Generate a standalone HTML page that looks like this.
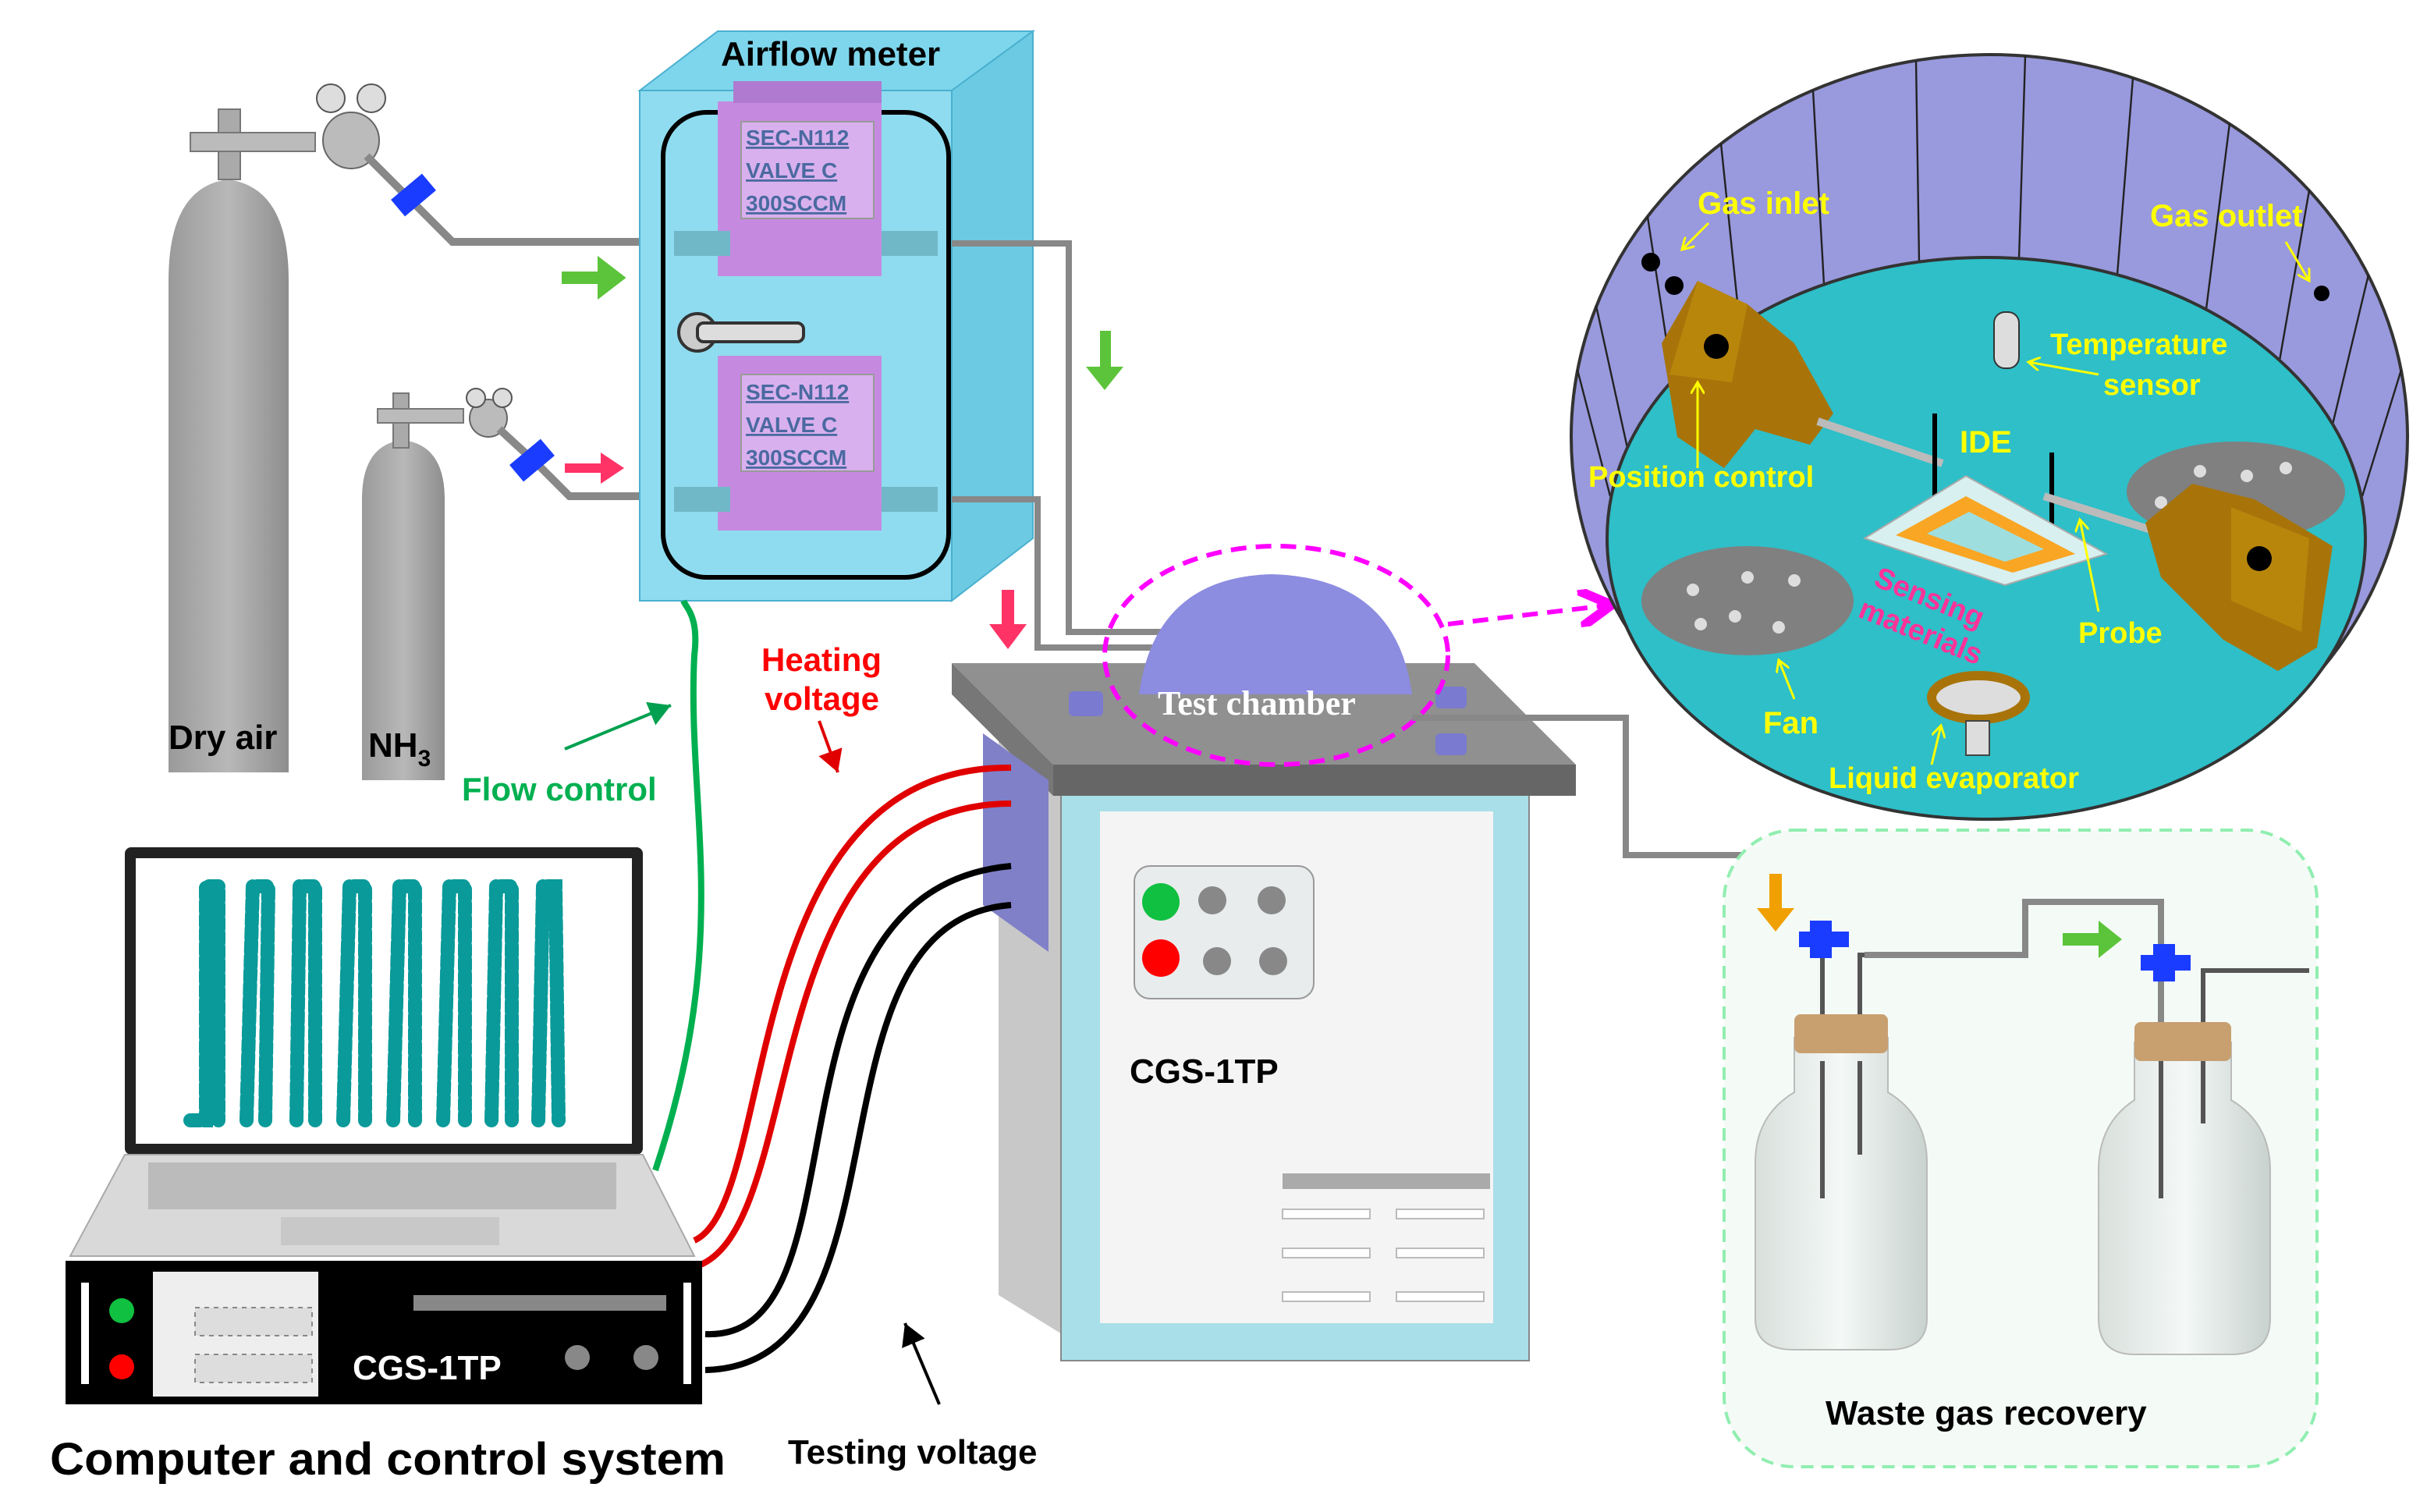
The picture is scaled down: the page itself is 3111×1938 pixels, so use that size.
<!DOCTYPE html>
<html><head><meta charset="utf-8"><style>
html,body{margin:0;padding:0;background:#fff}
svg{display:block}
text{font-family:"Liberation Sans",sans-serif;font-weight:bold}
</style></head><body>
<svg width="3111" height="1938" viewBox="0 0 1555.5 969" xmlns="http://www.w3.org/2000/svg">
<defs>
<linearGradient id="cyl" x1="0" x2="1"><stop offset="0" stop-color="#9a9a9a"/><stop offset="0.5" stop-color="#b8b8b8"/><stop offset="1" stop-color="#8e8e8e"/></linearGradient>
<linearGradient id="bottle" x1="0" x2="1"><stop offset="0" stop-color="#d8e0dc"/><stop offset="0.5" stop-color="#f4f8f6"/><stop offset="1" stop-color="#c8d2ce"/></linearGradient>
<marker id="ay" markerWidth="6" markerHeight="6" refX="5" refY="3" orient="auto"><path d="M0,0 L5,3 L0,6" fill="none" stroke="#ffff00" stroke-width="1"/></marker>
<marker id="ag" markerWidth="8" markerHeight="8" refX="7" refY="4" orient="auto"><path d="M0,0 L7,4 L0,8 z" fill="#00a050"/></marker>
<marker id="ak" markerWidth="8" markerHeight="8" refX="7" refY="4" orient="auto"><path d="M0,0 L7,4 L0,8 z" fill="#000"/></marker>
<marker id="ar" markerWidth="8" markerHeight="8" refX="7" refY="4" orient="auto"><path d="M0,0 L7,4 L0,8 z" fill="#e00000"/></marker>
<marker id="am" markerWidth="8" markerHeight="8" refX="6" refY="4" orient="auto"><path d="M0,0 L7,4 L0,8" fill="none" stroke="#ff00ff" stroke-width="2"/></marker>
</defs>

<!-- cylinders -->
<path d="M108,495 L108,180 Q108,120 146,115 Q185,120 185,180 L185,495 Z" fill="url(#cyl)"/>
<path d="M232,500 L232,320 Q232,285 258,282 Q285,285 285,320 L285,500 Z" fill="url(#cyl)"/>
<rect x="140" y="70" width="14" height="45" fill="#aaa" stroke="#777"/>
<rect x="122" y="85" width="80" height="12" fill="#bbb" stroke="#777"/>
<circle cx="225" cy="90" r="18" fill="#bbb" stroke="#666"/>
<circle cx="212" cy="63" r="9" fill="#ddd" stroke="#555"/><circle cx="238" cy="63" r="9" fill="#ddd" stroke="#555"/>
<rect x="252" y="252" width="10" height="35" fill="#aaa" stroke="#777"/>
<rect x="242" y="262" width="55" height="9" fill="#bbb" stroke="#777"/>
<circle cx="313" cy="268" r="12" fill="#bbb" stroke="#666"/>
<circle cx="305" cy="255" r="6" fill="#ddd" stroke="#555"/><circle cx="322" cy="255" r="6" fill="#ddd" stroke="#555"/>
<path d="M235,100 L265,130 L290,155 L410,155" fill="none" stroke="#888" stroke-width="5"/>
<path d="M320,275 L345,298 L365,318 L410,318" fill="none" stroke="#888" stroke-width="5"/>
<rect x="252" y="118" width="26" height="14" fill="#1a3cff" transform="rotate(-40 265 125)"/>
<rect x="328" y="288" width="26" height="14" fill="#1a3cff" transform="rotate(-40 341 295)"/>
<text x="108" y="480" font-size="22">Dry air</text>
<text x="236" y="485" font-size="22">NH<tspan font-size="15" dy="6">3</tspan></text>
<path d="M362,176 L385,176 L385,168 L398,178 L385,188 L385,180 L362,180 Z" fill="#5cc43a" stroke="#5cc43a" stroke-width="4"/>
<path d="M362,297 L385,297 L385,290 L400,300 L385,310 L385,303 L362,303 Z" fill="#ff3366"/>

<!-- airflow meter -->
<path d="M410,58 L460,20 L662,20 L662,345 L610,385 Z" fill="#5fc8e0"/>
<rect x="410" y="58" width="200" height="327" fill="#8fdcf0" stroke="#4ab0d0"/>
<path d="M410,58 L460,20 L662,20 L610,58 Z" fill="#7ed6ec" stroke="#4ab0d0"/>
<path d="M610,58 L662,20 L662,345 L610,385 Z" fill="#6ccae2" stroke="#4ab0d0"/>
<text x="462" y="42" font-size="22">Airflow meter</text>
<rect x="425" y="72" width="183" height="298" rx="28" fill="none" stroke="#000" stroke-width="3"/>
<rect x="460" y="65" width="105" height="112" fill="#c58ae0"/>
<rect x="470" y="52" width="95" height="14" fill="#b07ad0"/>
<rect x="475" y="78" width="85" height="62" fill="#d9b0ee" stroke="#999"/>
<text x="478" y="93" font-size="14" fill="#4a6aa0" font-weight="normal" text-decoration="underline">SEC-N112</text>
<text x="478" y="114" font-size="14" fill="#4a6aa0" font-weight="normal" text-decoration="underline">VALVE C</text>
<text x="478" y="135" font-size="14" fill="#4a6aa0" font-weight="normal" text-decoration="underline">300SCCM</text>
<rect x="432" y="148" width="36" height="16" fill="#70b8c8"/><rect x="565" y="148" width="36" height="16" fill="#70b8c8"/>
<rect x="460" y="228" width="105" height="112" fill="#c58ae0"/>
<rect x="475" y="240" width="85" height="62" fill="#d9b0ee" stroke="#999"/>
<text x="478" y="256" font-size="14" fill="#4a6aa0" font-weight="normal" text-decoration="underline">SEC-N112</text>
<text x="478" y="277" font-size="14" fill="#4a6aa0" font-weight="normal" text-decoration="underline">VALVE C</text>
<text x="478" y="298" font-size="14" fill="#4a6aa0" font-weight="normal" text-decoration="underline">300SCCM</text>
<rect x="432" y="312" width="36" height="16" fill="#70b8c8"/><rect x="565" y="312" width="36" height="16" fill="#70b8c8"/>
<circle cx="447" cy="213" r="12" fill="#ccc" stroke="#333" stroke-width="2"/>
<rect x="447" y="207" width="68" height="12" rx="4" fill="#ddd" stroke="#333" stroke-width="2"/>
<path d="M610,156 L685,156 L685,405 L760,405" fill="none" stroke="#888" stroke-width="4"/>
<path d="M610,320 L665,320 L665,415 L760,415" fill="none" stroke="#888" stroke-width="4"/>
<path d="M705,212 L712,212 L712,235 L720,235 L708,250 L696,235 L705,235 Z" fill="#5cc43a"/>
<path d="M642,378 L650,378 L650,400 L658,400 L646,416 L634,400 L642,400 Z" fill="#ff3366"/>

<!-- test chamber -->
<path d="M640,470 L705,515 L705,870 L640,830 Z" fill="#c8c8c8"/>
<rect x="680" y="500" width="300" height="372" fill="#a8dfe8" stroke="#888"/>
<rect x="705" y="520" width="252" height="328" fill="#f4f4f4"/>
<path d="M610,425 L945,425 L1010,490 L675,490 Z" fill="#909090"/>
<path d="M675,490 L1010,490 L1010,510 L675,510 Z" fill="#666"/>
<path d="M610,425 L675,490 L675,510 L610,445 Z" fill="#777"/>
<path d="M730,445 Q740,370 815,368 Q895,370 905,445 Z" fill="#8c8ce0"/>
<rect x="685" y="443" width="22" height="16" rx="3" fill="#7a7ad0"/>
<rect x="920" y="440" width="20" height="14" rx="3" fill="#7a7ad0"/>
<rect x="920" y="470" width="20" height="14" rx="3" fill="#7a7ad0"/>
<text x="742" y="458" font-size="22" fill="#fff" style="font-family:'Liberation Serif',serif">Test chamber</text>
<ellipse cx="818" cy="420" rx="110" ry="70" fill="none" stroke="#ff00ff" stroke-width="3" stroke-dasharray="10,6"/>
<path d="M928,400 L1030,388" fill="none" stroke="#ff00ff" stroke-width="3" stroke-dasharray="10,6" marker-end="url(#am)"/>
<path d="M630,470 L672,500 L672,610 L630,580 Z" fill="#7f80c8"/>
<rect x="727" y="555" width="115" height="85" rx="10" fill="#e8ecec" stroke="#999"/>
<circle cx="744" cy="578" r="12" fill="#10c040"/><circle cx="777" cy="577" r="9" fill="#888"/><circle cx="815" cy="577" r="9" fill="#888"/>
<circle cx="744" cy="614" r="12" fill="#ff0000"/><circle cx="780" cy="616" r="9" fill="#888"/><circle cx="816" cy="616" r="9" fill="#888"/>
<text x="724" y="694" font-size="22">CGS-1TP</text>
<rect x="822" y="752" width="133" height="10" fill="#aaa"/>
<g fill="#fff" stroke="#bbb"><rect x="822" y="775" width="56" height="6"/><rect x="895" y="775" width="56" height="6"/><rect x="822" y="800" width="56" height="6"/><rect x="895" y="800" width="56" height="6"/><rect x="822" y="828" width="56" height="6"/><rect x="895" y="828" width="56" height="6"/></g>
<path d="M905,460 L1042,460 L1042,548 L1168,548 L1168,600" fill="none" stroke="#888" stroke-width="4"/>

<!-- wires -->
<path d="M445,795 C500,770 470,490 648,492" fill="none" stroke="#e00000" stroke-width="4"/>
<path d="M445,812 C520,790 480,515 648,515" fill="none" stroke="#e00000" stroke-width="4"/>
<path d="M452,855 C560,860 480,570 648,555" fill="none" stroke="#000" stroke-width="4"/>
<path d="M452,878 C590,875 510,590 648,580" fill="none" stroke="#000" stroke-width="4"/>
<path d="M420,750 C470,600 440,520 445,420 C448,395 440,390 438,385" fill="none" stroke="#00b050" stroke-width="4"/>
<text x="488" y="430" font-size="21" fill="#ff0000">Heating</text>
<text x="490" y="455" font-size="21" fill="#ff0000">voltage</text>
<path d="M525,462 L537,495" stroke="#e00000" stroke-width="2" marker-end="url(#ar)"/>
<text x="296" y="513" font-size="21" fill="#00b050">Flow control</text>
<path d="M362,480 L430,452" stroke="#00a050" stroke-width="2" marker-end="url(#ag)"/>
<text x="505" y="938" font-size="22">Testing voltage</text>
<path d="M602,900 L580,848" stroke="#000" stroke-width="2" marker-end="url(#ak)"/>

<!-- laptop -->
<rect x="80" y="543" width="332" height="197" rx="4" fill="#222"/>
<rect x="87" y="550" width="318" height="183" fill="#fff"/>
<g fill="none" stroke="#0a9a9a" stroke-width="9" stroke-dasharray="6,3" stroke-linecap="round">
<path d="M122,718 L132,718 L132,568 L140,568 L140,718"/>
<path d="M158,718 L162,568 L172,568 L170,718"/>
<path d="M190,718 L192,568 L202,568 L202,718"/>
<path d="M220,718 L224,568 L234,568 L234,718"/>
<path d="M252,718 L256,568 L266,568 L266,718"/>
<path d="M284,718 L288,568 L298,568 L298,718"/>
<path d="M315,718 L318,568 L328,568 L328,718"/>
<path d="M345,718 L348,568 L356,568 L358,718"/>
</g>
<path d="M80,740 L412,740 L445,805 L45,805 Z" fill="#d9d9d9" stroke="#aaa"/>
<rect x="95" y="745" width="300" height="30" fill="#bbb"/>
<rect x="180" y="780" width="140" height="18" fill="#c8c8c8"/>
<rect x="42" y="808" width="408" height="92" fill="#000"/>
<rect x="52" y="822" width="5" height="65" fill="#fff"/><rect x="438" y="822" width="5" height="65" fill="#fff"/>
<circle cx="78" cy="840" r="8" fill="#10c040"/><circle cx="78" cy="876" r="8" fill="#ff0000"/>
<rect x="98" y="815" width="106" height="80" fill="#eee"/>
<rect x="125" y="838" width="75" height="18" fill="#ddd" stroke="#888" stroke-dasharray="3,3"/>
<rect x="125" y="868" width="75" height="18" fill="#ddd" stroke="#888" stroke-dasharray="3,3"/>
<rect x="265" y="830" width="162" height="10" fill="#888"/>
<text x="226" y="884" font-size="22" fill="#fff">CGS-1TP</text>
<circle cx="370" cy="870" r="8" fill="#888"/><circle cx="414" cy="870" r="8" fill="#888"/>
<text x="32" y="945" font-size="29" textLength="433" lengthAdjust="spacingAndGlyphs">Computer and control system</text>

<!-- zoom circle -->
<ellipse cx="1275" cy="280" rx="268" ry="245" fill="#9999dd" stroke="#333" stroke-width="2"/>
<g stroke="#222" stroke-width="1.2">
<line x1="1032" y1="318" x2="1011" y2="237"/>
<line x1="1043" y1="287" x2="1023" y2="196"/>
<line x1="1072" y1="244" x2="1056" y2="139"/>
<line x1="1115" y1="208" x2="1103" y2="92"/>
<line x1="1169" y1="182" x2="1162" y2="58"/>
<line x1="1230" y1="168" x2="1228" y2="39"/>
<line x1="1294" y1="166" x2="1298" y2="36"/>
<line x1="1357" y1="176" x2="1367" y2="50"/>
<line x1="1414" y1="198" x2="1429" y2="79"/>
<line x1="1461" y1="231" x2="1480" y2="122"/>
<line x1="1495" y1="272" x2="1518" y2="176"/>
<line x1="1514" y1="318" x2="1539" y2="237"/>
</g>
<ellipse cx="1273" cy="345" rx="243" ry="180" fill="#2ebfc8" stroke="#333" stroke-width="2"/>
<circle cx="1058" cy="168" r="6" fill="#000"/><circle cx="1073" cy="183" r="6" fill="#000"/><circle cx="1488" cy="188" r="5" fill="#000"/>
<text x="1088" y="137" font-size="20" fill="#ffff00">Gas inlet</text>
<path d="M1095,143 L1078,160" stroke="#ff0" stroke-width="1.5" marker-end="url(#ay)"/>
<text x="1378" y="145" font-size="20" fill="#ffff00">Gas outlet</text>
<path d="M1465,155 L1480,180" stroke="#ff0" stroke-width="1.5" marker-end="url(#ay)"/>
<rect x="1278" y="200" width="16" height="36" rx="7" fill="#ddd" stroke="#333"/>
<path d="M1345,240 L1300,232" stroke="#ff0" stroke-width="1.5" marker-end="url(#ay)"/>
<text x="1314" y="227" font-size="19" fill="#ffff00">Temperature</text>
<text x="1348" y="253" font-size="19" fill="#ffff00">sensor</text>
<path d="M1065,220 L1088,180 L1120,195 L1150,220 L1175,265 L1160,285 L1125,275 L1105,300 L1075,280 Z" fill="#a8740a"/>
<path d="M1088,180 L1120,195 L1110,245 L1070,240 Z" fill="#b8860b"/>
<circle cx="1100" cy="222" r="8" fill="#000"/>
<line x1="1165" y1="270" x2="1245" y2="297" stroke="#bbb" stroke-width="5"/>
<line x1="1240" y1="265" x2="1240" y2="340" stroke="#000" stroke-width="3"/>
<line x1="1315" y1="290" x2="1315" y2="360" stroke="#000" stroke-width="3"/>
<text x="1018" y="312" font-size="19" fill="#ffff00">Position  control</text>
<path d="M1088,300 L1088,245" stroke="#ff0" stroke-width="1.5" marker-end="url(#ay)"/>
<text x="1256" y="290" font-size="20" fill="#ffff00">IDE</text>
<path d="M1195,345 L1260,305 L1350,355 L1285,375 Z" fill="#d8f0f0" stroke="#aaa"/>
<path d="M1215,343 L1260,318 L1330,355 L1290,367 Z" fill="#ff9900" opacity="0.85"/>
<path d="M1235,342 L1262,328 L1310,352 L1285,360 Z" fill="#9fdede"/>
<text x="1200" y="375" font-size="19" fill="#ff3399" transform="rotate(22 1200 375)">Sensing</text>
<text x="1190" y="395" font-size="19" fill="#ff3399" transform="rotate(22 1190 395)">materials</text>
<ellipse cx="1433" cy="315" rx="70" ry="32" fill="#808080"/>
<g fill="#ddd"><circle cx="1410" cy="302" r="4"/><circle cx="1440" cy="305" r="4"/><circle cx="1465" cy="300" r="4"/><circle cx="1385" cy="322" r="4"/><circle cx="1423" cy="328" r="4"/></g>
<line x1="1310" y1="318" x2="1380" y2="340" stroke="#bbb" stroke-width="5"/>
<path d="M1375,335 L1405,310 L1445,320 L1495,350 L1485,415 L1460,430 L1425,410 L1385,370 Z" fill="#a8740a"/>
<path d="M1430,325 L1480,345 L1475,405 L1430,385 Z" fill="#b8860b"/>
<circle cx="1448" cy="358" r="8" fill="#000"/>
<text x="1332" y="412" font-size="19" fill="#ffff00">Probe</text>
<path d="M1345,392 L1333,333" stroke="#ff0" stroke-width="1.5" marker-end="url(#ay)"/>
<ellipse cx="1120" cy="385" rx="68" ry="35" fill="#808080"/>
<g fill="#ddd"><circle cx="1085" cy="378" r="4"/><circle cx="1120" cy="370" r="4"/><circle cx="1150" cy="372" r="4"/><circle cx="1112" cy="395" r="4"/><circle cx="1090" cy="400" r="4"/><circle cx="1140" cy="402" r="4"/></g>
<text x="1130" y="470" font-size="20" fill="#ffff00">Fan</text>
<path d="M1150,448 L1140,423" stroke="#ff0" stroke-width="1.5" marker-end="url(#ay)"/>
<ellipse cx="1268" cy="447" rx="30" ry="14" fill="#ddd" stroke="#a8740a" stroke-width="6"/>
<rect x="1260" y="462" width="15" height="22" fill="#ddd" stroke="#444"/>
<text x="1172" y="505" font-size="19" fill="#ffff00">Liquid evaporator</text>
<path d="M1238,490 L1244,465" stroke="#ff0" stroke-width="1.5" marker-end="url(#ay)"/>

<!-- waste gas -->
<rect x="1105" y="532" width="380" height="408" rx="45" fill="#f4fbf6" stroke="#90eeb0" stroke-width="2" stroke-dasharray="8,5"/>
<path d="M1192,740 L1192,612 L1260,612" fill="none" stroke="#555" stroke-width="3"/>
<path d="M1168,600 L1168,768" fill="none" stroke="#555" stroke-width="3"/>
<path d="M1195,612 L1298,612 L1298,578 L1385,578 L1385,768" fill="none" stroke="#888" stroke-width="4"/>
<path d="M1412,720 L1412,622 L1480,622" fill="none" stroke="#555" stroke-width="3"/>
<rect x="1153" y="597" width="32" height="10" fill="#1a3cff"/><rect x="1160" y="590" width="14" height="24" fill="#1a3cff"/>
<rect x="1372" y="612" width="32" height="10" fill="#1a3cff"/><rect x="1380" y="605" width="14" height="24" fill="#1a3cff"/>
<path d="M1134,560 L1142,560 L1142,582 L1150,582 L1138,597 L1126,582 L1134,582 Z" fill="#f0a000"/>
<path d="M1322,598 L1345,598 L1345,590 L1360,602 L1345,614 L1345,606 L1322,606 Z" fill="#5cc43a"/>
<path d="M1150,665 L1210,665 L1210,700 Q1235,715 1235,745 L1235,845 Q1235,865 1210,865 L1150,865 Q1125,865 1125,845 L1125,745 Q1125,715 1150,700 Z" fill="url(#bottle)" stroke="#bbb"/>
<rect x="1150" y="650" width="60" height="25" rx="4" fill="#c8a070"/>
<path d="M1368,668 L1430,668 L1430,705 Q1455,720 1455,750 L1455,845 Q1455,868 1430,868 L1368,868 Q1345,868 1345,845 L1345,750 Q1345,720 1368,705 Z" fill="url(#bottle)" stroke="#bbb"/>
<rect x="1368" y="655" width="62" height="25" rx="4" fill="#c8a070"/>
<line x1="1168" y1="680" x2="1168" y2="768" stroke="#555" stroke-width="3"/>
<line x1="1192" y1="680" x2="1192" y2="740" stroke="#555" stroke-width="3"/>
<line x1="1385" y1="680" x2="1385" y2="768" stroke="#555" stroke-width="3"/>
<line x1="1412" y1="680" x2="1412" y2="720" stroke="#555" stroke-width="3"/>
<text x="1170" y="913" font-size="22">Waste gas recovery</text>
</svg>
</body></html>
